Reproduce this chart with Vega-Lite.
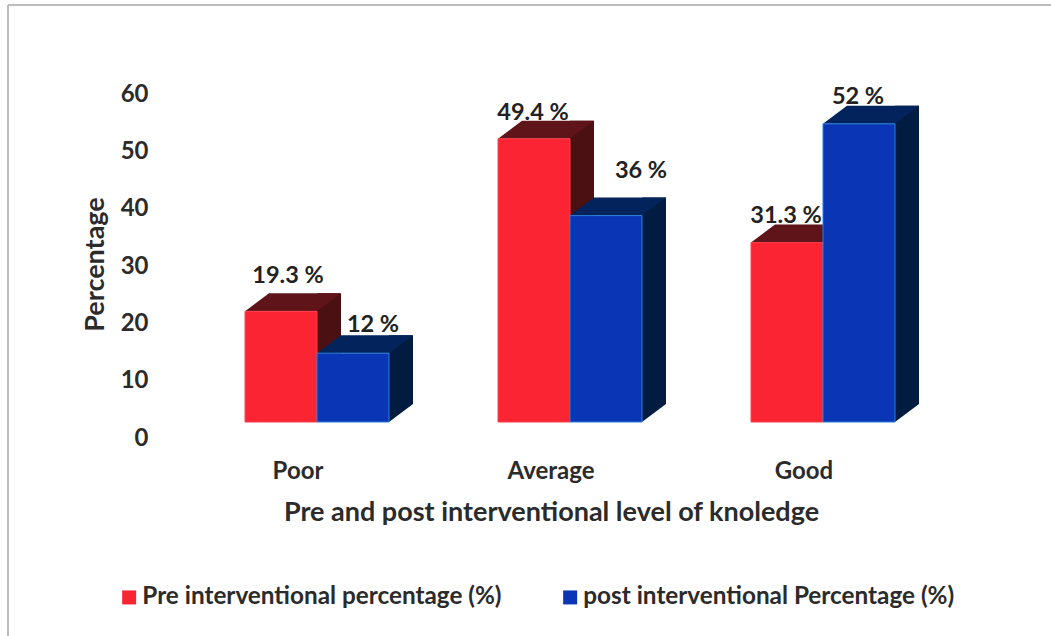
{
"$schema":"https://vega.github.io/schema/vega-lite/v6.json",
"width":1043,"height":631,"autosize":{"type":"none"},
"padding":{"left":8,"top":5,"right":0,"bottom":0},
"background":"white",
"config":{"view":{"stroke":null},"font":"Lato"},
"data":{"values":[
{"group":"Poor","series":"Pre interventional percentage (%)","value":19.3,"label":"19.3 %"},
{"group":"Poor","series":"post interventional Percentage (%)","value":12,"label":"12 %"},
{"group":"Average","series":"Pre interventional percentage (%)","value":49.4,"label":"49.4 %"},
{"group":"Average","series":"post interventional Percentage (%)","value":36,"label":"36 %"},
{"group":"Good","series":"Pre interventional percentage (%)","value":31.3,"label":"31.3 %"},
{"group":"Good","series":"post interventional Percentage (%)","value":52,"label":"52 %"}
]},
"encoding":{
"x":{"field":"group","type":"nominal","sort":["Poor","Average","Good"],
 "scale":{"range":[182.5,941.5],"paddingInner":0.431,"paddingOuter":0.2155},
 "axis":{"orient":"bottom","offset":-177,"domain":false,"ticks":false,"grid":false,"labelAngle":0,"labelOffset":-19,"labelPadding":0,"labelBaseline":"top","labelFontSize":24,"labelFontWeight":"bold","labelColor":"#2b2b2b",
 "title":"Pre and post interventional level of knoledge","titleFontSize":27,"titleFontWeight":"bold","titleColor":"#2b2b2b","titleX":543,"titleY":53,"titleBaseline":"middle","titleAlign":"center","titleAnchor":null}},
"xOffset":{"field":"series","type":"nominal","sort":["Pre interventional percentage (%)","post interventional Percentage (%)"],"scale":{"paddingInner":0,"paddingOuter":0}},
"y":{"field":"value","type":"quantitative",
 "scale":{"domain":[0,60],"range":[417,73],"nice":false},
 "axis":{"orient":"left","offset":-140,"domain":false,"ticks":false,"grid":false,"values":[0,10,20,30,40,50,60],"labelOffset":16,"labelPadding":0,"labelFontSize":24,"labelFontWeight":"bold","labelColor":"#2b2b2b",
 "title":"Percentage","titleFontSize":27,"titleFontWeight":"bold","titleColor":"#2b2b2b","titleX":-53,"titleY":259,"titleAlign":"center","titleBaseline":"middle","titleAnchor":null}}
},
"layer":[
{"mark":{"type":"rule","stroke":"#bdbdbd","strokeWidth":2},"encoding":{"x":{"value":0},"xOffset":null,"y":{"value":0},"y2":{"value":631}}},
{"mark":{"type":"rule","stroke":"#bdbdbd","strokeWidth":2},"encoding":{"x":{"value":0},"x2":{"value":1043},"xOffset":null,"y":{"value":0}}},
{"transform":[{"filter":"datum.series==='Pre interventional percentage (%)'"}],
 "mark":{"type":"rule","xOffset":12,"yOffset":-18,"y2Offset":-18,"strokeWidth":24,"color":"#4a1012"},
 "encoding":{"xOffset":null,"y2":{"datum":0}}},
{"transform":[{"filter":"datum.series==='post interventional Percentage (%)'"}],
 "mark":{"type":"rule","xOffset":84,"yOffset":-18,"y2Offset":-18,"strokeWidth":24,"color":"#021b40"},
 "encoding":{"xOffset":null,"y2":{"datum":0}}},
{"mark":{"type":"point","filled":true,"size":4,"opacity":1,"strokeWidth":0,"shape":"M36 0L60 -18L36 -18Z"},
 "encoding":{"y":{"datum":0},"color":{"condition":{"test":"datum.series==='Pre interventional percentage (%)'","value":"#4a1012"},"value":"#021b40"}}},
{"mark":{"type":"point","filled":true,"size":4,"opacity":1,"strokeWidth":0,"shape":"M-36 0L36 0L60 -18L-12 -18Z"},
 "encoding":{"color":{"condition":{"test":"datum.series==='Pre interventional percentage (%)'","value":"#5f1419"},"value":"#03235c"}}},
{"mark":{"type":"bar","strokeWidth":1},
 "encoding":{"stroke":{"condition":{"test":"datum.series==='Pre interventional percentage (%)'","value":"#ff3d4d"},"value":"#2a7fd8"},
 "color":{"field":"series","type":"nominal","sort":["Pre interventional percentage (%)","post interventional Percentage (%)"],
  "scale":{"domain":["Pre interventional percentage (%)","post interventional Percentage (%)"],"range":["#fb2433","#0a35b5"]},
  "legend":{"orient":"none","legendX":109,"legendY":580,"direction":"horizontal","title":null,"symbolType":"square","symbolSize":196,"symbolStrokeWidth":0,"labelFontSize":24.3,"labelFontWeight":"bold","labelColor":"#2b2b2b","labelLimit":500,"columnPadding":56,"labelOffset":1}}}},
{"transform":[{"filter":"datum.label==='19.3 %'"}],"mark":{"type":"text","fontSize":23.5,"fontWeight":"bold","color":"#222222","dx":7,"dy":-35},"encoding":{"text":{"field":"label"}}},
{"transform":[{"filter":"datum.label==='12 %'"}],"mark":{"type":"text","fontSize":23.5,"fontWeight":"bold","color":"#222222","dx":20,"dy":-28},"encoding":{"text":{"field":"label"}}},
{"transform":[{"filter":"datum.label==='49.4 %'"}],"mark":{"type":"text","fontSize":23.5,"fontWeight":"bold","color":"#222222","dx":-1,"dy":-26},"encoding":{"text":{"field":"label"}}},
{"transform":[{"filter":"datum.label==='36 %'"}],"mark":{"type":"text","fontSize":23.5,"fontWeight":"bold","color":"#222222","dx":35,"dy":-45},"encoding":{"text":{"field":"label"}}},
{"transform":[{"filter":"datum.label==='31.3 %'"}],"mark":{"type":"text","fontSize":23.5,"fontWeight":"bold","color":"#222222","dx":-1,"dy":-27},"encoding":{"text":{"field":"label"}}},
{"transform":[{"filter":"datum.label==='52 %'"}],"mark":{"type":"text","fontSize":23.5,"fontWeight":"bold","color":"#222222","dx":-1,"dy":-27},"encoding":{"text":{"field":"label"}}}
]
}
